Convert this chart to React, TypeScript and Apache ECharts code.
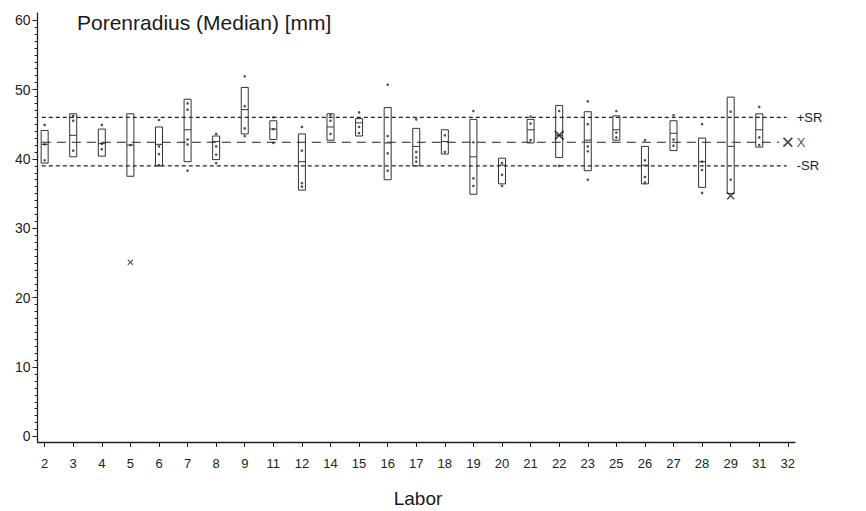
import React, { useEffect, useRef } from "react";
import * as echarts from "echarts";

// ---------- data ----------
const labs = ["2","3","4","5","6","7","8","9","11","12","14","15","16","17","18","19","20","21","22","23","25","26","27","28","29","31","32"];

const boxHigh = [44.1, 46.5, 44.3, 46.5, 44.6, 48.6, 43.3, 50.3, 45.5, 43.6, 46.5, 45.8, 47.4, 44.4, 44.2, 45.7, 40.1, 45.7, 47.7, 46.8, 46.2, 41.8, 45.5, 43.0, 48.9, 46.5, null];
const boxLow = [39.4, 40.3, 40.4, 37.5, 39.0, 39.6, 39.9, 43.6, 42.8, 35.5, 42.7, 43.3, 37.0, 39.0, 40.7, 34.9, 36.4, 42.3, 40.2, 38.3, 42.7, 36.4, 41.2, 35.9, 35.0, 41.7, null];
const medians = [42.1, 43.4, 42.2, 42.0, 42.1, 44.2, 42.5, 47.1, 44.3, 39.6, 44.6, 45.2, 42.3, 41.8, 42.5, 40.3, 39.1, 44.2, 43.4, 42.7, 44.2, 39.1, 43.7, 39.6, 41.8, 44.2, null];

const singleValues: number[][] = [
  [44.9, 42.1, 39.8],
  [46.2, 45.5, 41.2],
  [44.9, 42.2, 41.4],
  [42.0],
  [45.6, 41.8, 40.7, 39.1],
  [48.0, 47.1, 42.8, 42.1, 38.3],
  [43.6, 41.8, 40.6, 39.4],
  [51.9, 47.6, 44.4, 43.3],
  [46.0, 44.3, 42.3],
  [44.6, 41.2, 36.5, 36.0],
  [46.3, 45.5, 43.6],
  [46.7, 44.6, 43.7],
  [50.7, 43.3, 40.8, 38.3],
  [45.7, 41.0, 40.2, 39.6],
  [43.4, 41.0],
  [46.9, 42.4, 37.2, 36.1],
  [39.4, 37.7, 36.1],
  [46.1, 45.1, 42.7],
  [46.9, 39.0],
  [48.3, 45.0, 41.8, 41.1, 37.0],
  [46.9, 43.8, 43.1],
  [42.7, 39.8, 37.4, 36.6],
  [46.3, 42.8, 41.9],
  [45.0, 39.6, 38.4, 35.1],
  [46.8, 37.0],
  [47.5, 43.1, 42.0],
  [],
];

const crossLabs = ["5", "22", "29", "32"];
const crossValues = [25.1, 43.4, 34.7, 42.4];
const crossSizes = [6, 10, 8, 10];

const meanValue = 42.4;
const srUpper = 46.0;
const srLower = 39.0;

const yTickLabels = [0, 10, 20, 30, 40, 50, 60];
const yMinorTicks = Array.from({ length: 61 }, (_, i) => i);

// ---------- helpers ----------
const FONT = "Liberation Sans, Arial, Helvetica, sans-serif";
const INK = "#222222";
const xIdx = labs.map((_, i) => i);
const lineStart = -0.1;
const srEnd = 25.96;
const meanEnd = 25.7;

const crossPath =
  "path://M0,1.2L1.2,0L5,3.8L8.8,0L10,1.2L6.2,5L10,8.8L8.8,10L5,6.2L1.2,10L0,8.8L3.8,5Z";

export default function App() {
  const ref = useRef<HTMLDivElement>(null);

  useEffect(() => {
    if (!ref.current) return;
    const chart = echarts.init(ref.current, undefined, { renderer: "svg" });

    const boxData: number[][] = [];
    labs.forEach((_, i) => {
      if (boxHigh[i] != null && boxLow[i] != null && medians[i] != null) {
        boxData.push([i, boxLow[i] as number, boxHigh[i] as number, medians[i] as number]);
      }
    });

    const dotData: number[][] = [];
    singleValues.forEach((vals, i) => vals.forEach((v) => dotData.push([i, v])));

    const crossData = crossLabs.map((lab, k) => {
      const item: any = {
        value: [labs.indexOf(lab), crossValues[k]],
        symbolSize: crossSizes[k],
      };
      if (lab === "32") {
        item.label = {
          show: true,
          position: "right",
          distance: 4,
          formatter: "X",
          fontSize: 13,
          fontFamily: FONT,
          color: INK,
        };
      }
      return item;
    });

    const refLine = (value: number, end: number, type: any, label: string | null) => ({
      type: "line",
      xAxisIndex: 0,
      yAxisIndex: 0,
      data: [
        [lineStart, value],
        [end, value],
      ],
      symbol: "none",
      silent: true,
      lineStyle: { color: INK, width: 1.2, type },
      endLabel: label
        ? {
            show: true,
            formatter: label,
            distance: 10,
            fontSize: 13,
            fontFamily: FONT,
            color: INK,
          }
        : { show: false },
      z: 2,
    });

    const option: any = {
      animation: false,
      backgroundColor: "#ffffff",
      textStyle: { fontFamily: FONT },
      grid: { left: 37.5, right: 71, top: 13.2, bottom: 69, containLabel: false },
      xAxis: {
        type: "value",
        min: -0.25,
        max: 26.25,
        axisLine: { show: true, onZero: false, lineStyle: { color: INK, width: 1.3 } },
        axisTick: {
          show: true,
          customValues: xIdx,
          length: 5,
          lineStyle: { color: INK, width: 1 },
        },
        axisLabel: {
          customValues: xIdx,
          formatter: (v: number) => labs[Math.round(v)] ?? "",
          fontSize: 13,
          fontFamily: FONT,
          color: INK,
          margin: 15,
        },
        splitLine: { show: false },
      },
      yAxis: [
        {
          type: "value",
          min: -0.8,
          max: 61,
          axisLine: { show: true, onZero: false, lineStyle: { color: INK, width: 1.3 } },
          axisTick: {
            show: true,
            customValues: yTickLabels,
            length: 5,
            lineStyle: { color: INK, width: 1 },
          },
          axisLabel: {
            customValues: yTickLabels,
            fontSize: 14,
            fontFamily: FONT,
            color: INK,
            margin: 7,
          },
          splitLine: { show: false },
        },
        {
          type: "value",
          min: -0.8,
          max: 61,
          position: "left",
          axisLine: { show: false, onZero: false },
          axisTick: {
            show: true,
            customValues: yMinorTicks,
            length: 3,
            lineStyle: { color: INK, width: 1 },
          },
          axisLabel: { show: false },
          splitLine: { show: false },
        },
      ],
      graphic: [
        {
          type: "text",
          x: 77,
          y: 22,
          style: {
            text: "Porenradius (Median) [mm]",
            font: `21px ${FONT}`,
            fill: "#1a1a1a",
            textAlign: "left",
            textVerticalAlign: "middle",
          },
        },
        {
          type: "text",
          x: 418,
          y: 498,
          style: {
            text: "Labor",
            font: `19px ${FONT}`,
            fill: "#1a1a1a",
            textAlign: "center",
            textVerticalAlign: "middle",
          },
        },
      ],
      series: [
        refLine(srUpper, srEnd, [4, 3], "+SR"),
        refLine(srLower, srEnd, [4, 3], "-SR"),
        refLine(meanValue, meanEnd, [9, 6], null),
        {
          type: "custom",
          xAxisIndex: 0,
          yAxisIndex: 0,
          data: boxData,
          encode: { x: 0, y: [1, 2, 3] },
          z: 3,
          renderItem: (params: any, api: any) => {
            const x = api.value(0);
            const lo = api.coord([x, api.value(1)]);
            const hi = api.coord([x, api.value(2)]);
            const md = api.coord([x, api.value(3)]);
            const w = 7;
            return {
              type: "group",
              children: [
                {
                  type: "rect",
                  shape: { x: hi[0] - w / 2, y: hi[1], width: w, height: lo[1] - hi[1] },
                  style: { fill: "none", stroke: "#333", lineWidth: 1 },
                },
                {
                  type: "line",
                  shape: { x1: md[0] - w / 2, y1: md[1], x2: md[0] + w / 2, y2: md[1] },
                  style: { stroke: "#333", lineWidth: 1 },
                },
              ],
            };
          },
        },
        {
          type: "scatter",
          xAxisIndex: 0,
          yAxisIndex: 0,
          data: dotData,
          symbol: "circle",
          symbolSize: 2.6,
          itemStyle: { color: "#222" },
          z: 4,
        },
        {
          type: "scatter",
          xAxisIndex: 0,
          yAxisIndex: 0,
          data: crossData,
          symbol: crossPath,
          itemStyle: { color: "#1a1a1a" },
          z: 5,
        },
      ],
    };

    chart.setOption(option);
    return () => chart.dispose();
  }, []);

  return (
    <div
      ref={ref}
      style={{ position: "absolute", left: 0, top: 0, width: 866, height: 511 }}
    />
  );
}
